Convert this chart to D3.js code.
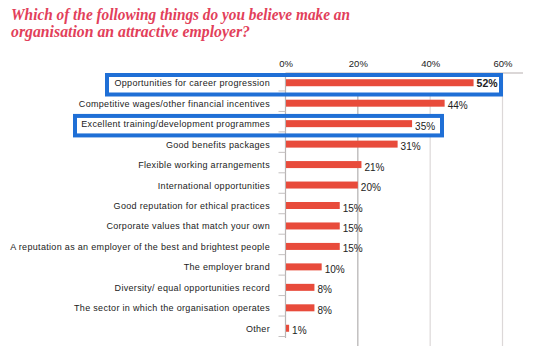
<!DOCTYPE html>
<html>
<head>
<meta charset="utf-8">
<script src="https://cdn.jsdelivr.net/npm/d3@7/dist/d3.min.js"></script>
<style>
  html, body { margin: 0; padding: 0; background: #fff; }
  svg { display: block; }
</style>
</head>
<body>
<svg id="chart" width="547" height="346"></svg>
<script>
// Survey answers, in drawing order (top to bottom)
const categories = [
  "Opportunities for career progression",
  "Competitive wages/other financial incentives",
  "Excellent training/development programmes",
  "Good benefits packages",
  "Flexible working arrangements",
  "International opportunities",
  "Good reputation for ethical practices",
  "Corporate values that match your own",
  "A reputation as an employer of the best and brightest people",
  "The employer brand",
  "Diversity/ equal opportunities record",
  "The sector in which the organisation operates",
  "Other"
];
const values = [52, 44, 35, 31, 21, 20, 15, 15, 15, 10, 8, 8, 1];
const tickValues = [0, 20, 40, 60];
const highlighted = [0, 2];
const titleLines = [
  "Which of the following things do you believe make an",
  "organisation an attractive employer?"
];

const svg = d3.select("#chart");

// Title
const titleWidths = [339, 239];
const title = svg.append("g")
  .attr("font-family", "'Liberation Serif', 'DejaVu Serif', serif")
  .attr("font-weight", "bold")
  .attr("font-style", "italic")
  .attr("font-size", 16)
  .attr("fill", "#e2405a");
title.selectAll("text").data(titleLines).join("text")
  .attr("x", 11)
  .attr("y", (d, i) => 20 + i * 17)
  .attr("textLength", (d, i) => titleWidths[i])
  .attr("lengthAdjust", "spacingAndGlyphs")
  .text(d => d);

// Scales
const x = d3.scaleLinear().domain([0, 60]).range([285.5, 502.5]);
const y = d3.scaleBand().domain(d3.range(categories.length)).range([72.5, 338.5]).paddingInner(0).paddingOuter(0);
const barH = 7;
const axisTop = 73;
const axisBottom = 338;

// Highlight boxes around selected rows
const boxes = [
  { row: highlighted[0], x0: 107, x1: 501 },
  { row: highlighted[1], x0: 75, x1: 442 }
];

// Gridlines
const grid = svg.append("g");
grid.selectAll("line").data(tickValues.filter(t => t > 0)).join("line")
  .attr("x1", d => x(d)).attr("x2", d => x(d))
  .attr("y1", axisTop).attr("y2", 346)
  .attr("stroke", d => d === 20 ? "#b3b0b0" : "#dcd8d8")
  .attr("stroke-width", 1.2);

// White fill of highlight boxes hides gridlines inside
svg.append("g").selectAll("rect").data(boxes).join("rect")
  .attr("x", d => d.x0).attr("width", d => d.x1 - d.x0)
  .attr("y", d => y(d.row) + 2.5).attr("height", 19.5)
  .attr("fill", "#fff");

// Top axis
const axis = d3.axisTop(x)
  .tickValues(tickValues)
  .tickSize(0)
  .tickPadding(6)
  .tickFormat(d => d + "%");
const axG = svg.append("g")
  .attr("transform", `translate(0,${axisTop})`)
  .call(axis);
axG.select(".domain").remove();
axG.selectAll("text")
  .attr("font-family", "'Liberation Sans', Arial, sans-serif")
  .attr("font-size", 9.5)
  .attr("fill", "#222");
svg.append("line")
  .attr("x1", x(0)).attr("x2", 523)
  .attr("y1", axisTop).attr("y2", axisTop)
  .attr("stroke", "#cfcaca").attr("stroke-width", 1.5);

// Vertical category axis line and row ticks
svg.append("line")
  .attr("x1", x(0)).attr("x2", x(0))
  .attr("y1", axisTop).attr("y2", axisBottom)
  .attr("stroke", "#b8b4b4").attr("stroke-width", 1.2);
svg.append("g").selectAll("line").data(d3.range(1, categories.length + 1)).join("line")
  .attr("x1", x(0) - 7).attr("x2", x(0))
  .attr("y1", d => y.step() * d + 72.5 - 2)
  .attr("y2", d => y.step() * d + 72.5 - 2)
  .attr("stroke", "#c4c0c0").attr("stroke-width", 1);

// Bars
svg.append("g").selectAll("rect").data(values).join("rect")
  .attr("x", x(0) + 0.5)
  .attr("y", (d, i) => y(i) + y.bandwidth() / 2 - barH / 2)
  .attr("width", d => x(d) - x(0) - 0.5)
  .attr("height", barH)
  .attr("fill", "#e84b3b");

// Category labels
svg.append("g").selectAll("text").data(categories).join("text")
  .attr("x", 270)
  .attr("y", (d, i) => y(i) + y.bandwidth() / 2 + 3.5)
  .attr("text-anchor", "end")
  .attr("font-family", "'Liberation Sans', Arial, sans-serif")
  .attr("font-size", 9)
  .attr("letter-spacing", 0.32)
  .attr("fill", "#222")
  .text(d => d);

// Value labels
svg.append("g").selectAll("text").data(values).join("text")
  .attr("x", d => x(d) + 3)
  .attr("y", (d, i) => y(i) + y.bandwidth() / 2 + (i === 0 ? 4 : 6))
  .attr("font-family", "'Liberation Sans', Arial, sans-serif")
  .attr("font-size", (d, i) => i === 0 ? 10.5 : 10)
  .attr("font-weight", (d, i) => i === 0 ? "bold" : "normal")
  .attr("fill", "#222")
  .text(d => d + "%");

// Highlight box outlines
svg.append("g").selectAll("rect").data(boxes).join("rect")
  .attr("x", d => d.x0).attr("width", d => d.x1 - d.x0)
  .attr("y", d => y(d.row) + 2.5).attr("height", 19.5)
  .attr("fill", "none")
  .attr("stroke", "#1f6fd6")
  .attr("stroke-width", 4);
</script>
</body>
</html>
